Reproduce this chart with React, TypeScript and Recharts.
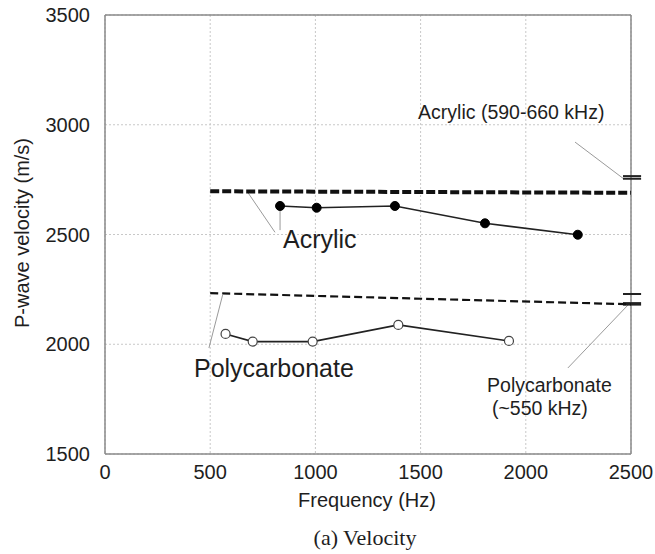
import React from 'react';
import {
  ComposedChart, Line, XAxis, YAxis, CartesianGrid, ReferenceLine, ReferenceDot,
} from 'recharts';

// Measured data (Frequency Hz, velocity m/s)
const acrylicFreq = [832, 1006, 1378, 1806, 2247];
const acrylicVel = [2630, 2622, 2630, 2551, 2499];
const polyFreq = [573, 702, 987, 1394, 1920];
const polyVel = [2047, 2012, 2012, 2088, 2015];

// Theoretical / reference lines
const acrylicRefFreq = [500, 2500];
const acrylicRefVel = [2697, 2690];
const polyRefFreq = [500, 2500];
const polyRefVel = [2233, 2182];

// High-frequency (kHz) measurements shown as bars beyond right edge
const acrylicKHzVel = [2766, 2754];
const polyKHzVel = [2229, 2184];
const markerSpan = [2462, 2548];

const xTicks = [0, 500, 1000, 1500, 2000, 2500];
const yTicks = [1500, 2000, 2500, 3000, 3500];

const zip = (xs: number[], ys: number[]) => xs.map((x, i) => ({ x, y: ys[i] }));
const acrylicData = zip(acrylicFreq, acrylicVel);
const polyData = zip(polyFreq, polyVel);
const acrylicRef = zip(acrylicRefFreq, acrylicRefVel);
const polyRef = zip(polyRefFreq, polyRefVel);

const FONT = '"Liberation Sans", Arial, sans-serif';
const TXT = '#1e1e1e';

type Note = { x: number; y: number; text: string; size: number };
const notes: Note[] = [
  { x: 846, y: 2438, text: 'Acrylic', size: 25 },
  { x: 423, y: 1851, text: 'Polycarbonate', size: 25 },
  { x: 1488, y: 3026, text: 'Acrylic (590-660 kHz)', size: 19.5 },
  { x: 1816, y: 1784, text: 'Polycarbonate', size: 19.5 },
  { x: 1839, y: 1678, text: '(~550 kHz)', size: 19.5 },
];

type Seg = [number, number, number, number];
const leaders: Seg[] = [
  [680, 2690, 808, 2510],
  [832, 2612, 832, 2520],
  [559, 2224, 494, 1983],
  [2234, 2921, 2462, 2756],
  [2200, 1892, 2486, 2179],
];

const noteLabel = (n: Note) => (props: any) => {
  const vb = props.viewBox || {};
  return (
    <text x={vb.x} y={vb.y} fill={TXT} fontSize={n.size} fontFamily={FONT} textAnchor="start">
      {n.text}
    </text>
  );
};

export default function App() {
  return (
    <div style={{ position: 'absolute', left: 0, top: 0, width: 655, height: 554, background: '#fff' }}>
      <ComposedChart width={655} height={554} margin={{ top: 15, right: 24, left: 20, bottom: 70 }}>
        <CartesianGrid stroke="#c8c8c8" strokeDasharray="2 2" />
        <XAxis
          type="number"
          dataKey="x"
          domain={[0, 2500]}
          ticks={xTicks}
          allowDataOverflow
          tickLine={false}
          tickMargin={5}
          axisLine={{ stroke: '#8a8a8a', strokeWidth: 1.5 }}
          height={30}
          tick={{ fill: TXT, fontSize: 20, fontFamily: FONT }}
          label={{
            content: (p: any) => (
              <text x={367} y={507} textAnchor="middle" fill={TXT} fontSize={20} fontFamily={FONT}>
                Frequency (Hz)
              </text>
            ),
          }}
        />
        <YAxis
          type="number"
          dataKey="y"
          domain={[1500, 3500]}
          ticks={yTicks}
          allowDataOverflow
          tickLine={false}
          tickMargin={9}
          width={85}
          axisLine={{ stroke: '#8a8a8a', strokeWidth: 1.5 }}
          tick={{ fill: TXT, fontSize: 20, fontFamily: FONT }}
          label={{
            content: () => (
              <text
                x={29}
                y={233}
                textAnchor="middle"
                transform="rotate(-90 29 233)"
                fill={TXT}
                fontSize={20}
                fontFamily={FONT}
              >
                P-wave velocity (m/s)
              </text>
            ),
          }}
        />
        <ReferenceLine y={3500} stroke="#8a8a8a" strokeWidth={1.5} />
        <ReferenceLine x={2500} stroke="#8a8a8a" strokeWidth={1.5} />

        {leaders.map((s, i) => (
          <ReferenceLine
            key={'l' + i}
            segment={[{ x: s[0], y: s[1] }, { x: s[2], y: s[3] }]}
            stroke="#9a9a9a"
            strokeWidth={1}
            ifOverflow="visible"
          />
        ))}

        {acrylicKHzVel.map((v, i) => (
          <ReferenceLine
            key={'a' + i}
            segment={[{ x: markerSpan[0], y: v }, { x: markerSpan[1], y: v }]}
            stroke="#222"
            strokeWidth={2}
            ifOverflow="visible"
          />
        ))}
        {polyKHzVel.map((v, i) => (
          <ReferenceLine
            key={'p' + i}
            segment={[{ x: markerSpan[0], y: v }, { x: markerSpan[1], y: v }]}
            stroke="#222"
            strokeWidth={i === 0 ? 2 : 3.5}
            ifOverflow="visible"
          />
        ))}

        <Line
          data={acrylicRef}
          dataKey="y"
          stroke="#111"
          strokeWidth={4}
          strokeDasharray="9 3"
          dot={false}
          isAnimationActive={false}
        />
        <Line
          data={polyRef}
          dataKey="y"
          stroke="#111"
          strokeWidth={2.2}
          strokeDasharray="8 4"
          dot={false}
          isAnimationActive={false}
        />
        <Line
          data={acrylicData}
          dataKey="y"
          stroke="#222"
          strokeWidth={1.6}
          dot={{ r: 4.5, fill: '#000', stroke: '#000', strokeWidth: 1 }}
          isAnimationActive={false}
        />
        <Line
          data={polyData}
          dataKey="y"
          stroke="#222"
          strokeWidth={1.6}
          dot={{ r: 4.5, fill: '#fff', stroke: '#444', strokeWidth: 1.2 }}
          isAnimationActive={false}
        />

        {notes.map((n, i) => (
          <ReferenceDot
            key={'n' + i}
            x={n.x}
            y={n.y}
            r={0}
            fill="none"
            stroke="none"
            ifOverflow="visible"
            label={{ content: noteLabel(n) }}
          />
        ))}
      </ComposedChart>
      <div
        style={{
          position: 'absolute',
          left: 0,
          width: 730,
          top: 524,
          textAlign: 'center',
          fontFamily: '"Liberation Serif", "Times New Roman", serif',
          fontSize: 22,
          color: TXT,
          lineHeight: '28px',
        }}
      >
        (a) Velocity
      </div>
    </div>
  );
}
